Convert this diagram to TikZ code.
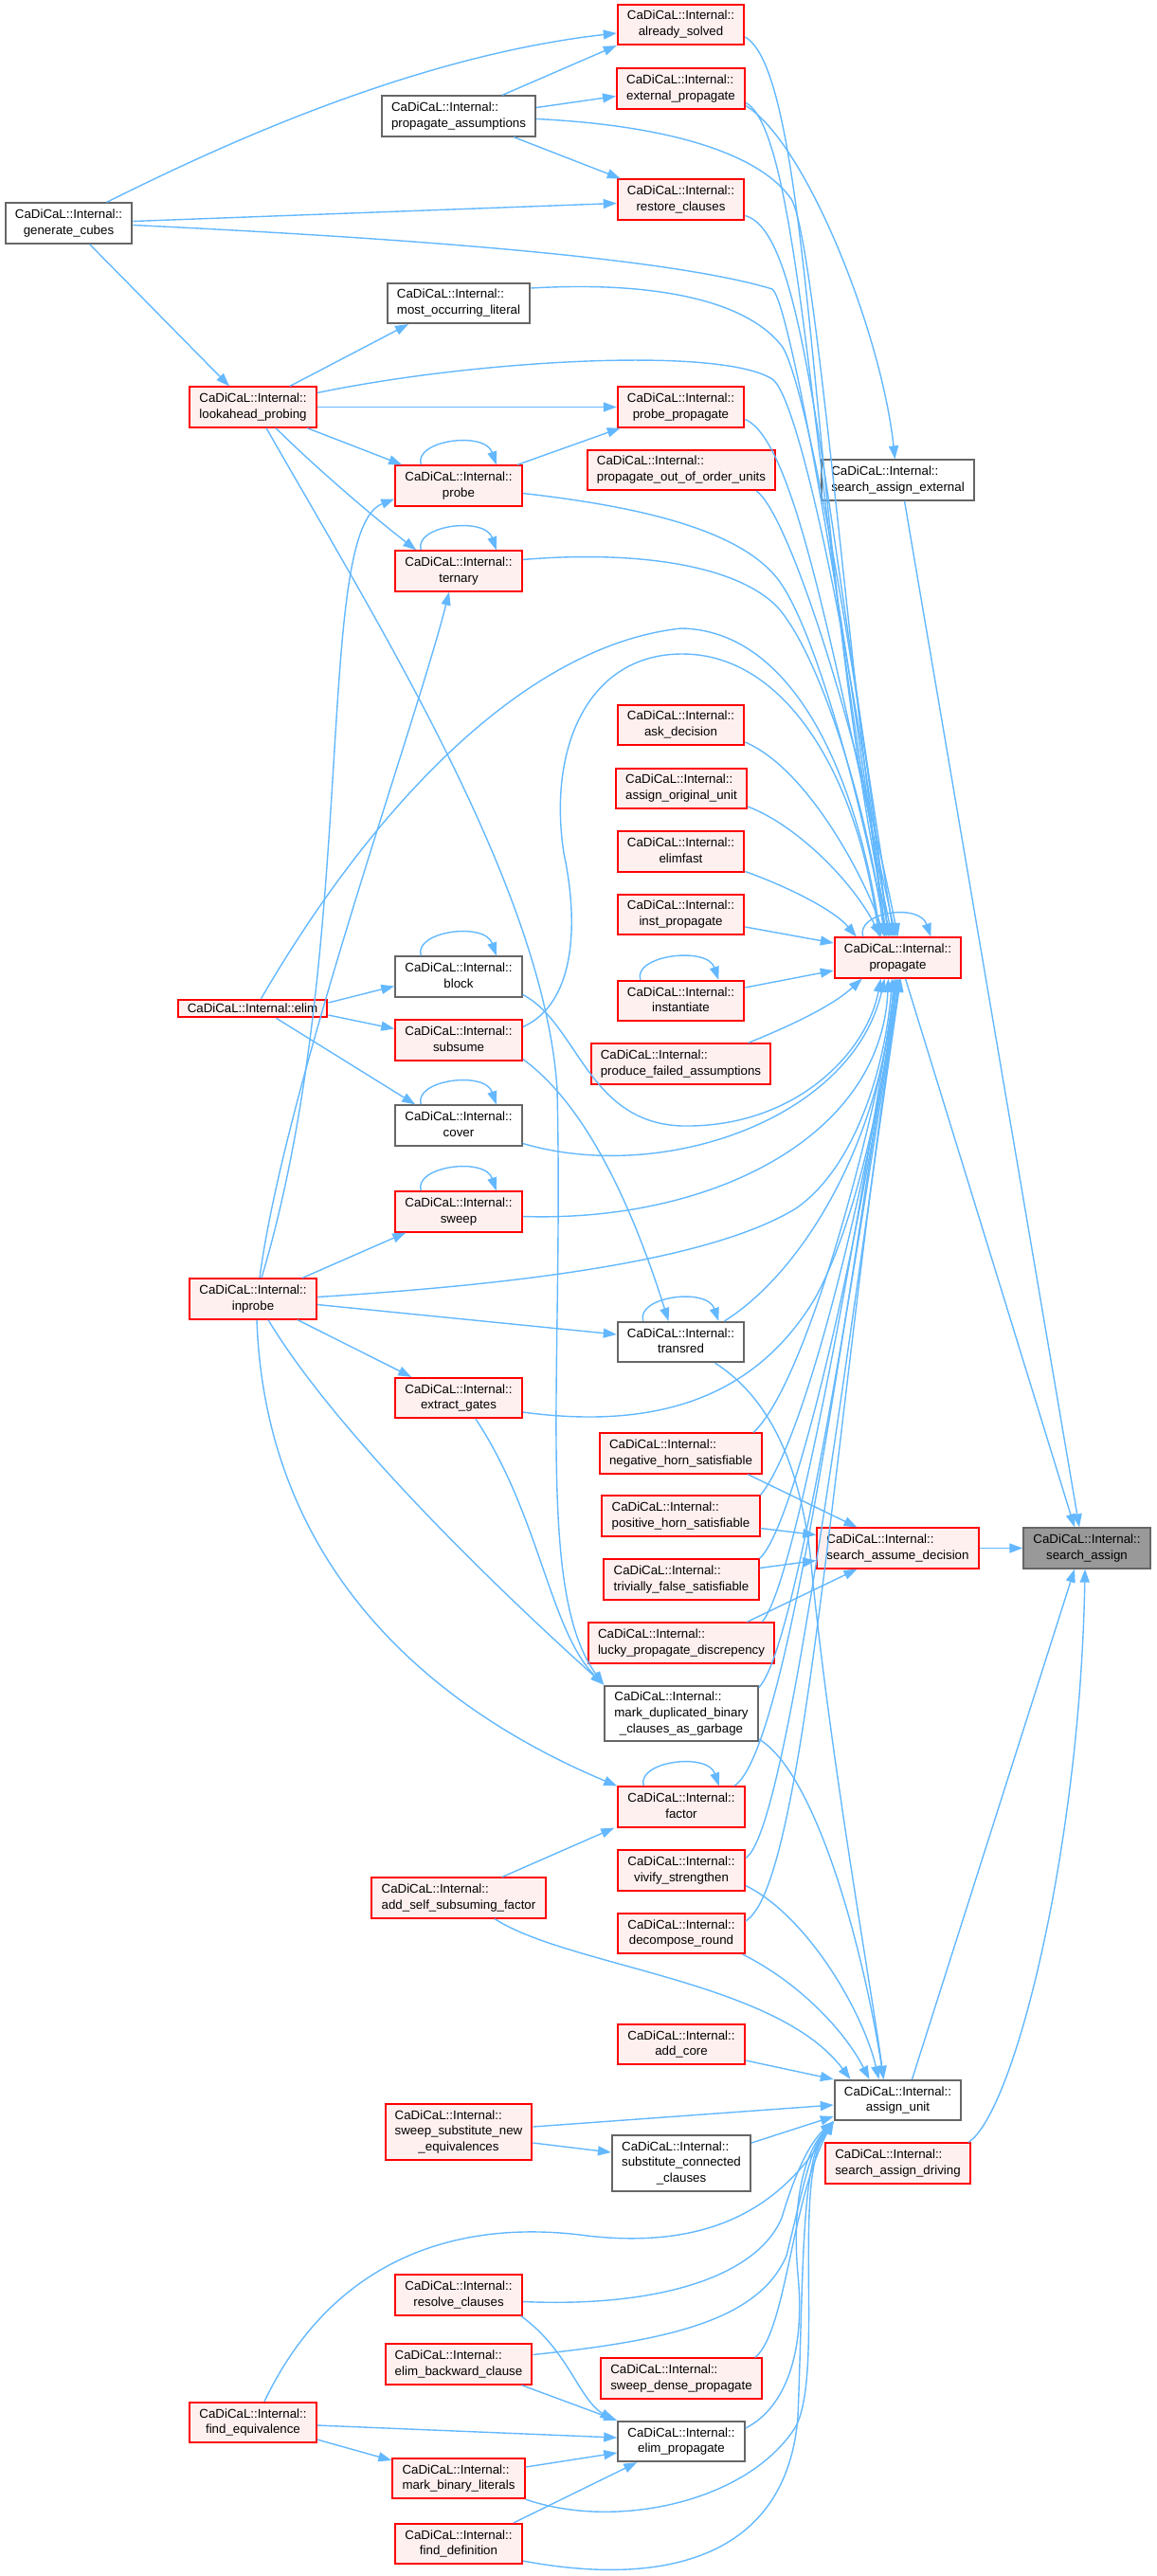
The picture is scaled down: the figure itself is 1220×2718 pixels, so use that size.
\documentclass[tikz,border=0pt]{standalone}
\usepackage{fontspec}
\setmainfont{Liberation Sans}
\usetikzlibrary{arrows.meta}
\definecolor{edgeblue}{HTML}{63B8FF}
\definecolor{redfill}{HTML}{FFF0F0}
\definecolor{boxgrey}{HTML}{666666}
\definecolor{rootfill}{HTML}{999999}
\newcommand{\fnlbl}[1]{\begin{tabular}{@{}l@{}}CaDiCaL::Internal::\\\multicolumn{1}{@{}c@{}}{#1}\end{tabular}}
\newcommand{\fnlblii}[2]{\begin{tabular}{@{}l@{}}CaDiCaL::Internal::\\\multicolumn{1}{@{}c@{}}{#1}\\\multicolumn{1}{@{}c@{}}{#2}\end{tabular}}
\begin{document}
\begin{tikzpicture}[x=0.5pt,y=-0.5pt,
        fnbox/.style={draw=boxgrey,fill=white,line width=1pt,inner xsep=5.1pt,inner ysep=2.2pt,font=\fontsize{6.65pt}{8.35pt}\selectfont},
        fnred/.style={fnbox,draw=red,fill=redfill},
        fnroot/.style={fnbox,fill=rootfill},
        call/.style={draw=edgeblue,line width=0.7pt,-{Triangle[length=7pt,width=5pt]}}]
        \useasboundingbox (0,0) rectangle (1220,2718);
        \draw (718.5,26) node [fnred] (solved) {\fnlbl{already\_solved}};
        \draw (718.5,93.5) node [fnred] (extprop) {\fnlbl{external\_propagate}};
        \draw (484,122.5) node [fnbox] (propassum) {\fnlbl{propagate\_assumptions}};
        \draw (718.5,210.5) node [fnred] (restore) {\fnlbl{restore\_clauses}};
        \draw (72.5,235.5) node [fnbox] (gencubes) {\fnlbl{generate\_cubes}};
        \draw (484,320) node [fnbox] (mostocc) {\fnlbl{most\_occurring\_literal}};
        \draw (267,429.5) node [fnred] (lookahead) {\fnlbl{lookahead\_probing}};
        \draw (718.5,429.5) node [fnred] (probeprop) {\fnlbl{probe\_propagate}};
        \draw (719,496) node [fnred] (outoforder) {\fnlbl{propagate\_out\_of\_order\_units}};
        \draw (947.5,506.5) node [fnbox] (sae) {\fnlbl{search\_assign\_external}};
        \draw (484,512.5) node [fnred] (probe) {\fnlbl{probe}};
        \draw (484,602.5) node [fnred] (ternary) {\fnlbl{ternary}};
        \draw (718.5,765) node [fnred] (askdec) {\fnlbl{ask\_decision}};
        \draw (719,832) node [fnred] (assignorig) {\fnlbl{assign\_original\_unit}};
        \draw (718.5,898.5) node [fnred] (elimfast) {\fnlbl{elimfast}};
        \draw (718.5,965) node [fnred] (instprop) {\fnlbl{inst\_propagate}};
        \draw (947.5,1010.5) node [fnred] (propagate) {\fnlbl{propagate}};
        \draw (484,1030.5) node [fnbox] (block) {\fnlbl{block}};
        \draw (718.5,1056) node [fnred] (instantiate) {\fnlbl{instantiate}};
        \draw (266.5,1064) node [fnred] (elim) {CaDiCaL::Internal::elim};
        \draw (484,1097.5) node [fnred] (subsume) {\fnlbl{subsume}};
        \draw (718.5,1122.5) node [fnred] (failed) {\fnlbl{produce\_failed\_assumptions}};
        \draw (484,1187.5) node [fnbox] (cover) {\fnlbl{cover}};
        \draw (484,1278.5) node [fnred] (sweep) {\fnlbl{sweep}};
        \draw (267,1370.5) node [fnred] (inprobe) {\fnlbl{inprobe}};
        \draw (718.5,1416) node [fnbox] (transred) {\fnlbl{transred}};
        \draw (484,1475) node [fnred] (extract) {\fnlbl{extract\_gates}};
        \draw (718.5,1533.5) node [fnred] (neghorn) {\fnlbl{negative\_horn\_satisfiable}};
        \draw (718.5,1599.5) node [fnred] (poshorn) {\fnlbl{positive\_horn\_satisfiable}};
        \draw (947.5,1633.5) node [fnred] (sad) {\fnlbl{search\_assume\_decision}};
        \draw (1147,1633.5) node [fnroot] (sassign) {\fnlbl{search\_assign}};
        \draw (719,1666.5) node [fnred] (trivfalse) {\fnlbl{trivially\_false\_satisfiable}};
        \draw (719,1733.5) node [fnred] (lucky) {\fnlbl{lucky\_propagate\_discrepency}};
        \draw (719,1808) node [fnbox] (markdup) {\fnlblii{mark\_duplicated\_binary}{\_clauses\_as\_garbage}};
        \draw (719,1906.5) node [fnred] (factor) {\fnlbl{factor}};
        \draw (719,1973.5) node [fnred] (vivify) {\fnlbl{vivify\_strengthen}};
        \draw (484,2002.5) node [fnred] (addself) {\fnlbl{add\_self\_subsuming\_factor}};
        \draw (719,2040) node [fnred] (decomp) {\fnlbl{decompose\_round}};
        \draw (719,2157) node [fnred] (addcore) {\fnlbl{add\_core}};
        \draw (947.5,2216) node [fnbox] (assignunit) {\fnlbl{assign\_unit}};
        \draw (484,2249.5) node [fnred] (sweepsub) {\fnlblii{sweep\_substitute\_new}{\_equivalences}};
        \draw (719,2282.5) node [fnbox] (subconn) {\fnlblii{substitute\_connected}{\_clauses}};
        \draw (947.5,2282.5) node [fnred] (sadriving) {\fnlbl{search\_assign\_driving}};
        \draw (484,2421.5) node [fnred] (resolve) {\fnlbl{resolve\_clauses}};
        \draw (484,2494.5) node [fnred] (elimback) {\fnlbl{elim\_backward\_clause}};
        \draw (719,2509.5) node [fnred] (sweepdense) {\fnlbl{sweep\_dense\_propagate}};
        \draw (267,2556) node [fnred] (findeq) {\fnlbl{find\_equivalence}};
        \draw (719,2576) node [fnbox] (elimprop) {\fnlbl{elim\_propagate}};
        \draw (484,2615) node [fnred] (markbin) {\fnlbl{mark\_binary\_literals}};
        \draw (484,2684) node [fnred] (finddef) {\fnlbl{find\_definition}};
        \draw [call] ([shift={(40,0)}]gencubes.north) .. controls (220,160) and (430,60) .. ([shift={(0,9)}]solved.west);
        \draw [call] ([shift={(0,-2)}]gencubes.east) -- ([shift={(0,4)}]restore.west);
        \draw [call] ([shift={(0,2)}]gencubes.east) .. controls (400,250) and (700,270) .. (815,305) .. controls (835,320) and (900,700) .. ([shift={(-14,0)}]propagate.north);
        \draw [call] ([shift={(22,0)}]gencubes.south) -- ([shift={(-25,0)}]lookahead.north);
        \draw [call] ([shift={(46,0)}]propassum.north) -- (solved.south west);
        \draw [call] ([shift={(0,-9)}]propassum.east) -- ([shift={(0,8)}]extprop.west);
        \draw [call] ([shift={(58,0)}]propassum.south) -- ([shift={(4,0)}]restore.north west);
        \draw [call] ([shift={(0,3)}]propassum.east) .. controls (700,132) and (800,160) .. (835,210) .. controls (860,250) and (895,700) .. ([shift={(-12,0)}]propagate.north);
        \draw [call] ([shift={(0,13)}]solved.east) .. controls (860,80) and (855,600) .. ([shift={(-8,0)}]propagate.north);
        \draw [call] ([shift={(0,15)}]extprop.east) .. controls (850,140) and (860,600) .. ([shift={(-6,0)}]propagate.north);
        \draw [call] ([shift={(0,18)}]extprop.east) .. controls (850,150) and (930,350) .. ([shift={(-3,0)}]sae.north);
        \draw [call] ([shift={(0,17)}]restore.east) .. controls (850,245) and (865,500) .. ([shift={(-4,0)}]propagate.north);
        \draw [call] ([shift={(0,-16)}]mostocc.east) .. controls (700,296) and (790,320) .. (825,365) .. controls (850,400) and (905,700) .. ([shift={(-10,0)}]propagate.north);
        \draw [call] ([shift={(0,-15)}]lookahead.east) .. controls (500,380) and (760,365) .. (815,400) .. controls (845,420) and (905,720) .. ([shift={(-10,0)}]propagate.north);
        \draw [call] (lookahead.east) -- (probeprop.west);
        \draw [call] ([shift={(39,0)}]lookahead.north) -- ([shift={(-53,0)}]mostocc.south);
        \draw [call] ([shift={(57,0)}]lookahead.south) -- ([shift={(8,0)}]probe.north west);
        \draw [call] ([shift={(24,0)}]lookahead.south) .. controls (340,500) and (400,550) .. ([shift={(23,0)}]ternary.north west);
        \draw [call] ([shift={(14,0)}]lookahead.south) .. controls (400,660) and (575,940) .. (588,1150) .. controls (595,1450) and (565,1680) .. (markdup.north west);
        \draw [call] ([shift={(28,0)}]probe.north west) .. controls +(-8,-26) and +(-12,-36) .. ([shift={(-28,0)}]probe.north east);
        \draw [call] ([shift={(62,0)}]probe.north) -- ([shift={(4,0)}]probeprop.south west);
        \draw [call] ([shift={(0,8)}]probe.east) .. controls (680,535) and (780,560) .. (820,610) .. controls (860,660) and (910,850) .. ([shift={(-12,0)}]propagate.north);
        \draw [call] ([shift={(0,13)}]probeprop.east) .. controls (840,465) and (880,700) .. ([shift={(-2,0)}]propagate.north);
        \draw [call] ([shift={(-21,0)}]outoforder.south east) .. controls (830,540) and (900,750) .. (propagate.north);
        \draw [call] ([shift={(28,0)}]ternary.north west) .. controls +(-8,-26) and +(-12,-36) .. ([shift={(-28,0)}]ternary.north east);
        \draw [call] ([shift={(0,-12)}]ternary.east) .. controls (650,582) and (770,590) .. (820,640) .. controls (865,690) and (915,850) .. ([shift={(-14,0)}]propagate.north);
        \draw [call] ([shift={(0,18)}]askdec.east) .. controls (850,810) and (910,920) .. ([shift={(-14,0)}]propagate.north);
        \draw [call] ([shift={(0,19)}]assignorig.east) .. controls (840,870) and (900,930) .. ([shift={(-18,0)}]propagate.north);
        \draw [call] ([shift={(0,21)}]elimfast.east) .. controls (830,935) and (880,960) .. ([shift={(24,0)}]propagate.north west);
        \draw [call] ([shift={(0,13)}]instprop.east) -- ([shift={(0,-15.5)}]propagate.west);
        \draw [call] ([shift={(0,-14)}]instantiate.east) -- ([shift={(0,13.5)}]propagate.west);
        \draw [call] ([shift={(25,0)}]instantiate.north west) .. controls +(-8,-26) and +(-12,-36) .. ([shift={(-28,0)}]instantiate.north east);
        \draw [call] ([shift={(71,0)}]failed.north) .. controls (840,1080) and (880,1060) .. ([shift={(30,0)}]propagate.south west);
        \draw [call] ([shift={(31,0)}]propagate.north west) .. controls +(-8,-26) and +(-12,-36) .. ([shift={(-33,0)}]propagate.north east);
        \draw [call] ([shift={(9,0)}]elim.north) .. controls (400,840) and (560,680) .. (719,663) .. controls (830,665) and (900,800) .. ([shift={(-18,0)}]propagate.north);
        \draw [call] ([shift={(0,-6)}]elim.east) -- ([shift={(0,10)}]block.west);
        \draw [call] ([shift={(0,7)}]elim.east) -- ([shift={(0,-12)}]subsume.west);
        \draw [call] ([shift={(25,0)}]elim.south) -- ([shift={(22,0)}]cover.north west);
        \draw [call] ([shift={(28,0)}]block.north west) .. controls +(-8,-26) and +(-12,-36) .. ([shift={(-28,0)}]block.north east);
        \draw [call] ([shift={(0,19)}]block.east) .. controls (610,1080) and (620,1185) .. (720,1188) .. controls (840,1190) and (915,1110) .. ([shift={(-18,0)}]propagate.south);
        \draw [call] ([shift={(0,-14)}]subsume.east) .. controls (605,1060) and (612,980) .. (595,900) .. controls (578,790) and (620,690) .. (720,690) .. controls (830,690) and (905,820) .. ([shift={(-20,0)}]propagate.north);
        \draw [call] ([shift={(0,20)}]subsume.east) .. controls (610,1160) and (660,1250) .. ([shift={(-13,0)}]transred.north);
        \draw [call] ([shift={(28,0)}]cover.north west) .. controls +(-8,-26) and +(-12,-36) .. ([shift={(-28,0)}]cover.north east);
        \draw [call] ([shift={(0,19)}]cover.east) .. controls (700,1250) and (900,1180) .. ([shift={(-14,0)}]propagate.south);
        \draw [call] ([shift={(28,0)}]sweep.north west) .. controls +(-8,-26) and +(-12,-36) .. ([shift={(-28,0)}]sweep.north east);
        \draw [call] ([shift={(0,5)}]sweep.east) .. controls (750,1290) and (930,1200) .. ([shift={(-10,0)}]propagate.south);
        \draw [call] ([shift={(7,0)}]inprobe.north) .. controls (300,1150) and (440,760) .. ([shift={(-10,0)}]ternary.south);
        \draw [call] ([shift={(9,0)}]inprobe.north) .. controls (380,1000) and (330,560) .. ([shift={(0,14)}]probe.west);
        \draw [call] ([shift={(52,0)}]inprobe.north) -- ([shift={(12,0)}]sweep.south west);
        \draw [call] ([shift={(0,-2)}]inprobe.east) .. controls (550,1355) and (750,1330) .. (840,1275) .. controls (905,1230) and (935,1120) .. ([shift={(-6,0)}]propagate.south);
        \draw [call] ([shift={(0,6)}]inprobe.east) -- ([shift={(0,-8)}]transred.west);
        \draw [call] ([shift={(47,0)}]inprobe.south) -- ([shift={(18,0)}]extract.north west);
        \draw [call] ([shift={(4,0)}]inprobe.south) .. controls (280,1650) and (450,1800) .. (factor.north west);
        \draw [call] ([shift={(16,0)}]inprobe.south) .. controls (360,1520) and (540,1690) .. (markdup.north west);
        \draw [call] ([shift={(28,0)}]transred.north west) .. controls +(-8,-26) and +(-12,-36) .. ([shift={(-28,0)}]transred.north east);
        \draw [call] ([shift={(46,0)}]transred.north) .. controls (850,1340) and (930,1200) .. ([shift={(-4,0)}]propagate.south);
        \draw [call] ([shift={(36,0)}]transred.south) .. controls (820,1480) and (845,1560) .. (855,1640) .. controls (875,1850) and (920,2100) .. ([shift={(-15,0)}]assignunit.north);
        \draw [call] ([shift={(0,15)}]extract.east) .. controls (700,1510) and (800,1470) .. (860,1370) .. controls (910,1280) and (940,1100) .. ([shift={(-2,0)}]propagate.south);
        \draw [call] ([shift={(18,0)}]extract.south) .. controls (570,1600) and (580,1720) .. (markdup.north west);
        \draw [call] ([shift={(-10,0)}]neghorn.north east) .. controls (850,1460) and (920,1200) .. (propagate.south);
        \draw [call] ([shift={(-16,0)}]neghorn.south east) -- ([shift={(-43,0)}]sad.north);
        \draw [call] (poshorn.north east) .. controls (850,1520) and (915,1250) .. ([shift={(2,0)}]propagate.south);
        \draw [call] ([shift={(0,13)}]poshorn.east) -- ([shift={(0,-14)}]sad.west);
        \draw [call] (trivfalse.north east) .. controls (840,1610) and (910,1300) .. (propagate.south);
        \draw [call] ([shift={(0,-12)}]trivfalse.east) -- ([shift={(0,13)}]sad.west);
        \draw [call] ([shift={(-14,0)}]lucky.north east) .. controls (840,1670) and (905,1300) .. ([shift={(-2,0)}]propagate.south);
        \draw [call] ([shift={(-30,0)}]lucky.north east) -- ([shift={(-43,0)}]sad.south);
        \draw [call] ([shift={(0,3)}]markdup.north east) .. controls (840,1740) and (900,1350) .. ([shift={(2,0)}]propagate.south);
        \draw [call] ([shift={(0,27)}]markdup.east) .. controls (860,1870) and (910,2050) .. ([shift={(-15,0)}]assignunit.north);
        \draw [call] ([shift={(28,0)}]factor.north west) .. controls +(-8,-26) and +(-12,-36) .. ([shift={(-28,0)}]factor.north east);
        \draw [call] ([shift={(-12,0)}]factor.north east) .. controls (830,1850) and (890,1400) .. (propagate.south);
        \draw [call] ([shift={(46,0)}]addself.north) -- ([shift={(-3,0)}]factor.south west);
        \draw [call] ([shift={(38,0)}]addself.south) .. controls (600,2075) and (820,2090) .. ([shift={(-50,0)}]assignunit.north);
        \draw [call] ([shift={(0,-13)}]vivify.east) .. controls (830,1935) and (890,1450) .. ([shift={(3,0)}]propagate.south);
        \draw [call] ([shift={(0,16)}]vivify.east) .. controls (850,2020) and (910,2120) .. ([shift={(-20,0)}]assignunit.north);
        \draw [call] ([shift={(0,-13)}]decomp.east) .. controls (850,1990) and (880,1500) .. ([shift={(2,0)}]propagate.south);
        \draw [call] ([shift={(-3,0)}]decomp.south east) .. controls (840,2090) and (890,2140) .. ([shift={(-30,0)}]assignunit.north);
        \draw [call] ([shift={(0,17)}]addcore.east) -- (assignunit.north west);
        \draw [call] ([shift={(0,-5.5)}]sweepsub.east) -- ([shift={(0,5)}]assignunit.west);
        \draw [call] ([shift={(0,11.5)}]sweepsub.east) -- ([shift={(0,-11.5)}]subconn.west);
        \draw [call] ([shift={(0,-21.5)}]subconn.east) -- ([shift={(0,17)}]assignunit.west);
        \draw [call] ([shift={(12,0)}]findeq.north) .. controls (350,2385) and (480,2340) .. (620,2359) .. controls (760,2375) and (830,2320) .. (assignunit.south west);
        \draw [call] ([shift={(0,7)}]resolve.east) .. controls (700,2435) and (800,2400) .. (825,2340) .. controls (840,2290) and (855,2260) .. (assignunit.south west);
        \draw [call] ([shift={(0,-10)}]elimback.east) .. controls (700,2470) and (800,2450) .. (830,2380) .. controls (845,2320) and (855,2265) .. (assignunit.south west);
        \draw [call] ([shift={(-8,0)}]sweepdense.north east) .. controls (830,2460) and (835,2320) .. (assignunit.south west);
        \draw [call] ([shift={(0,-14)}]elimprop.east) .. controls (830,2540) and (850,2480) .. (842,2400) .. controls (835,2320) and (850,2270) .. (assignunit.south west);
        \draw [call] (markbin.south east) .. controls (650,2670) and (790,2640) .. (840,2560) .. controls (870,2500) and (835,2300) .. (assignunit.south west);
        \draw [call] ([shift={(0,18)}]finddef.east) .. controls (700,2730) and (830,2700) .. (842,2550) .. controls (848,2400) and (845,2280) .. (assignunit.south west);
        \draw [call] ([shift={(-2,0)}]resolve.south east) .. controls (600,2480) and (610,2530) .. ([shift={(-4,0)}]elimprop.north west);
        \draw [call] ([shift={(-12,0)}]elimback.south east) -- (elimprop.north west);
        \draw [call] ([shift={(0,3)}]findeq.east) -- ([shift={(0,-4)}]elimprop.west);
        \draw [call] ([shift={(0,-12)}]markbin.east) -- ([shift={(0,12)}]elimprop.west);
        \draw [call] ([shift={(58,0)}]finddef.north) -- ([shift={(21,0)}]elimprop.south west);
        \draw [call] ([shift={(0,18)}]findeq.east) -- ([shift={(0,-19)}]markbin.west);
        \draw [call] ([shift={(8,0)}]propagate.south) -- ([shift={(-13,0)}]sassign.north);
        \draw [call] ([shift={(7,0)}]sae.south) -- ([shift={(-8,0)}]sassign.north);
        \draw [call] (sad.east) -- (sassign.west);
        \draw [call] ([shift={(15,0)}]assignunit.north) -- ([shift={(-13,0)}]sassign.south);
        \draw [call] ([shift={(-3,0)}]sadriving.north east) .. controls (1070,2230) and (1140,1950) .. ([shift={(-2,0)}]sassign.south);
\end{tikzpicture}
\end{document}
